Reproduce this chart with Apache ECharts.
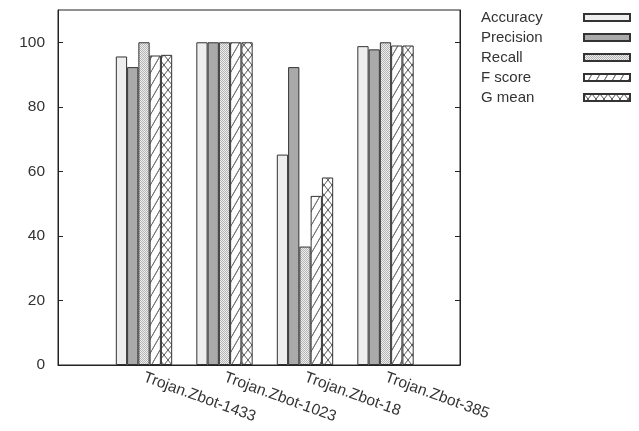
<!DOCTYPE html>
<html><head><meta charset="utf-8">
<script src="https://cdn.jsdelivr.net/npm/echarts@6/dist/echarts.min.js"></script>
<style>html,body{margin:0;padding:0;background:#fff}#c{width:639px;height:431px}</style>
</head><body><div id="c"></div>
<script>
const categories = ['Trojan.Zbot-1433', 'Trojan.Zbot-1023', 'Trojan.Zbot-18', 'Trojan.Zbot-385'];
const seriesNames = ['Accuracy', 'Precision', 'Recall', 'F score', 'G mean'];
const accuracy = [95.6, 100, 65.2, 98.8];
const precision = [92.3, 100, 92.3, 97.8];
const recall = [100, 100, 36.7, 100];
const fscore = [95.9, 100, 52.4, 99.0];
const gmean = [96.1, 100, 58.1, 99.0];
const yTicks = [0, 20, 40, 60, 80, 100];

function pat(w, h, draw) {
  const c = document.createElement('canvas');
  c.width = w; c.height = h;
  const g = c.getContext('2d');
  g.fillStyle = '#fff'; g.fillRect(0, 0, w, h);
  draw(g);
  return { image: c, repeat: 'repeat' };
}
const recallPat = pat(2, 2, g => {
  g.fillStyle = '#eeeeee'; g.fillRect(0, 0, 2, 2);
  g.fillStyle = '#b4b4b4'; g.fillRect(0, 0, 1, 1); g.fillRect(1, 1, 1, 1);
});
const fPat = pat(8, 14, g => {
  g.strokeStyle = '#777'; g.lineWidth = 1;
  g.beginPath();
  g.moveTo(-8, 28); g.lineTo(8, 0);
  g.moveTo(0, 28); g.lineTo(16, 0);
  g.moveTo(-8, 14); g.lineTo(0, 0);
  g.moveTo(0, 14); g.lineTo(8, 0);
  g.stroke();
});
const gPat = pat(8, 10, g => {
  g.strokeStyle = '#555'; g.lineWidth = 1;
  g.beginPath();
  g.moveTo(0, 0); g.lineTo(8, 10);
  g.moveTo(0, 10); g.lineTo(8, 0);
  g.stroke();
});
const fills = ['#eeeeee', '#aaaaaa', recallPat, fPat, gPat];
const datas = [accuracy, precision, recall, fscore, gmean];

const chart = echarts.init(document.getElementById('c'), null, { renderer: 'canvas' });
const font = 'Liberation Sans';
const fs = 15;
const afs = 15.5;
chart.setOption({
  animation: false,
  backgroundColor: '#fff',
  grid: [
    { left: 58, right: 179, top: 10, bottom: 66, show: true, borderColor: '#222', borderWidth: 1, backgroundColor: 'transparent' },
    { left: 103.75, right: 213.25, top: 10, bottom: 66 }
  ],
  legend: {
    orient: 'vertical', left: 481, top: 9, align: 'right', padding: 0,
    itemWidth: 46, itemHeight: 7, itemGap: 3, icon: 'rect',
    formatter: n => '{t|' + n + '}',
    textStyle: { fontFamily: font, fontSize: fs, color: '#333', lineHeight: 17,
      rich: { t: { width: 98, align: 'left', fontFamily: font, fontSize: fs, color: '#333', lineHeight: 17 } } },
    data: seriesNames
  },
  xAxis: [
    { type: 'value', gridIndex: 0, min: 0, max: 1, axisLabel: { show: false }, axisTick: { show: false }, splitLine: { show: false }, axisLine: { show: true, lineStyle: { color: '#222' } } },
    { type: 'category', gridIndex: 1, data: categories, axisLine: { show: false }, axisTick: { show: false },
      axisLabel: { rotate: -20, margin: 12, fontFamily: font, fontSize: afs, color: '#333', interval: 0 } }
  ],
  yAxis: [
    { type: 'value', gridIndex: 0, min: 0, max: 110, interval: 20, position: 'left',
      axisLine: { show: true, lineStyle: { color: '#222' } },
      axisTick: { show: true, inside: true, length: 5, lineStyle: { color: '#222' }, customValues: yTicks },
      axisLabel: { fontFamily: font, fontSize: afs, color: '#333', margin: 13, customValues: yTicks,
        formatter: v => (v > 100 ? '' : v) },
      splitLine: { show: false } },
    { type: 'value', gridIndex: 0, min: 0, max: 110, interval: 20, position: 'right',
      axisLine: { show: true, lineStyle: { color: '#222' } },
      axisTick: { show: true, inside: true, length: 5, lineStyle: { color: '#222' }, customValues: yTicks },
      axisLabel: { show: false }, splitLine: { show: false } },
    { type: 'value', gridIndex: 1, min: 0, max: 110, show: false, splitLine: { show: false } }
  ],
  series: seriesNames.map((n, i) => ({
    name: n, type: 'bar', xAxisIndex: 1, yAxisIndex: 2,
    barGap: '0%', barCategoryGap: '30%',
    data: datas[i],
    itemStyle: { color: fills[i], borderColor: '#333', borderWidth: 1 }
  }))
});
</script></body></html>
